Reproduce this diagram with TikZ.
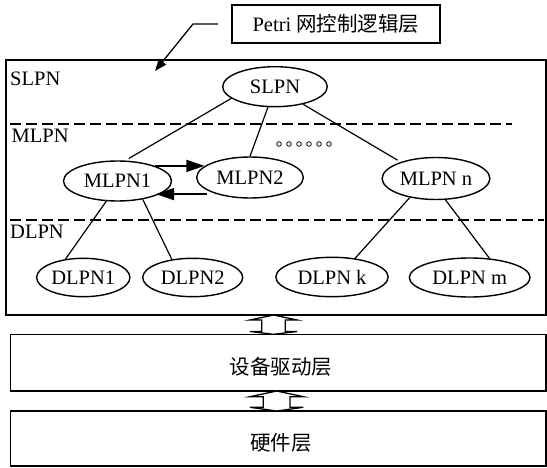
\documentclass[tikz,border=0pt]{standalone}
\usepackage{fontspec}
\setmainfont{Liberation Serif}
\newfontfamily\cjk{Noto Sans CJK SC}
\usetikzlibrary{arrows.meta,shapes.geometric,calc}
\begin{document}
\begin{tikzpicture}[x=1pt,y=-1pt,
  every node/.style={font=\fontsize{20.5}{23}\selectfont, inner sep=0pt},
  pn/.style={ellipse, draw, line width=1.4pt},
  link/.style={line width=1.2pt},
  arr/.style={line width=1.4pt, -{Triangle[length=18pt,width=12pt]}},
  callout/.style={line width=1.3pt, -{Triangle[length=12pt,width=9pt]}},
  sep/.style={line width=1.6pt, dash pattern=on 11pt off 5pt},
  frame/.style={draw, line width=1.4pt},
  biarrow/.style={draw, fill=white, line width=1.3pt, line join=miter},
  dot/.style={line width=0.8pt}]
\useasboundingbox (0,0) rectangle (547,468);

% title box and callout
\node[frame, minimum width=208pt, minimum height=37.7pt] (title) at (336,24) {Petri {\cjk 网控制逻辑层}};
\coordinate (cstart) at (218,24);
\coordinate (cbend) at (193,24);
\coordinate (ctip) at (155,71);
\draw[callout] (cstart) -- (cbend) -- (ctip);

% outer Petri layer frame
\draw[line width=1.4pt] (6,60) rectangle (546,315);

% separators
\draw[sep] (10,124) -- (512,124);
\draw[sep] (10,220) -- (544,220);

% side labels
\node[anchor=west] (lslpn) at (10,79) {SLPN};
\node[anchor=west] (lmlpn) at (11.5,136) {MLPN};
\node[anchor=west] (ldlpn) at (10,231.7) {DLPN};

% nets
\node[pn, minimum width=104.6pt, minimum height=40pt] (slpn) at (275,86.7) {SLPN};
\node[pn, minimum width=108pt, minimum height=40pt] (mlpn1) at (117.5,181) {MLPN1};
\node[pn, minimum width=106.6pt, minimum height=41pt] (mlpn2) at (250,177.5) {MLPN2};
\node[pn, minimum width=107.7pt, minimum height=42pt] (mlpnn) at (436,178.5) {MLPN n};
\node[pn, minimum width=93.3pt, minimum height=38.4pt] (dlpn1) at (83.3,277.5) {DLPN1};
\node[pn, minimum width=100pt, minimum height=38.4pt] (dlpn2) at (192.7,277.5) {DLPN2};
\node[pn, minimum width=112.3pt, minimum height=39.4pt] (dlpnk) at (332,277) {DLPN k};
\node[pn, minimum width=120.7pt, minimum height=39pt] (dlpnm) at (469.7,277.5) {DLPN m};

% ellipsis dots
\foreach \i in {0,...,5} \draw[dot] (279+10*\i,144) circle (2.3pt);

% tree links
\draw[link, shorten >=4pt] (slpn.195) -- (mlpn1.69);
\draw[link] (slpn.251.5) -- (mlpn2.90);
\draw[link, shorten >=3.5pt] (slpn.328) -- (mlpnn.155.6);
\draw[link] (mlpn1.241) -- (dlpn1.134);
\draw[link] (mlpn1.324) -- (dlpn2.139);
\draw[link] (mlpnn.216.8) -- (dlpnk.39.4);
\draw[link] (mlpnn.294.8) -- (dlpnm.44.9);

% MLPN1 <-> MLPN2
\draw[arr] (mlpn1.22) -- (mlpn1.22 -| mlpn2.166.5);
\draw[arr] ([xshift=-4pt,yshift=-1.8pt]mlpn2.201.6) -- ([xshift=-4pt,yshift=-1.8pt]mlpn2.201.6 -| mlpn1.343);

% lower layers
\draw[line width=1.4pt] (10.5,334.3) rectangle (546,391);
\node (drv) at (281,366.7) {\cjk 设备驱动层};
\draw[line width=1.4pt] (10.5,411) rectangle (546,466);
\node (hw) at (281,442.7) {\cjk 硬件层};

% block double arrows between layers
\draw[biarrow] (273.5,315) -- (297,320) -- (285.2,320) -- (285.2,331.5) -- (297,331.5)
  -- (273.5,334.3) -- (250,331.5) -- (261.8,331.5) -- (261.8,320) -- (250,320) -- cycle;
\draw[biarrow] (276.7,391) -- (303.3,396.7) -- (290,396.7) -- (290,407.3) -- (303.3,407.3)
  -- (276.7,411) -- (250,407.3) -- (263.3,407.3) -- (263.3,396.7) -- (250,396.7) -- cycle;
\end{tikzpicture}
\end{document}
